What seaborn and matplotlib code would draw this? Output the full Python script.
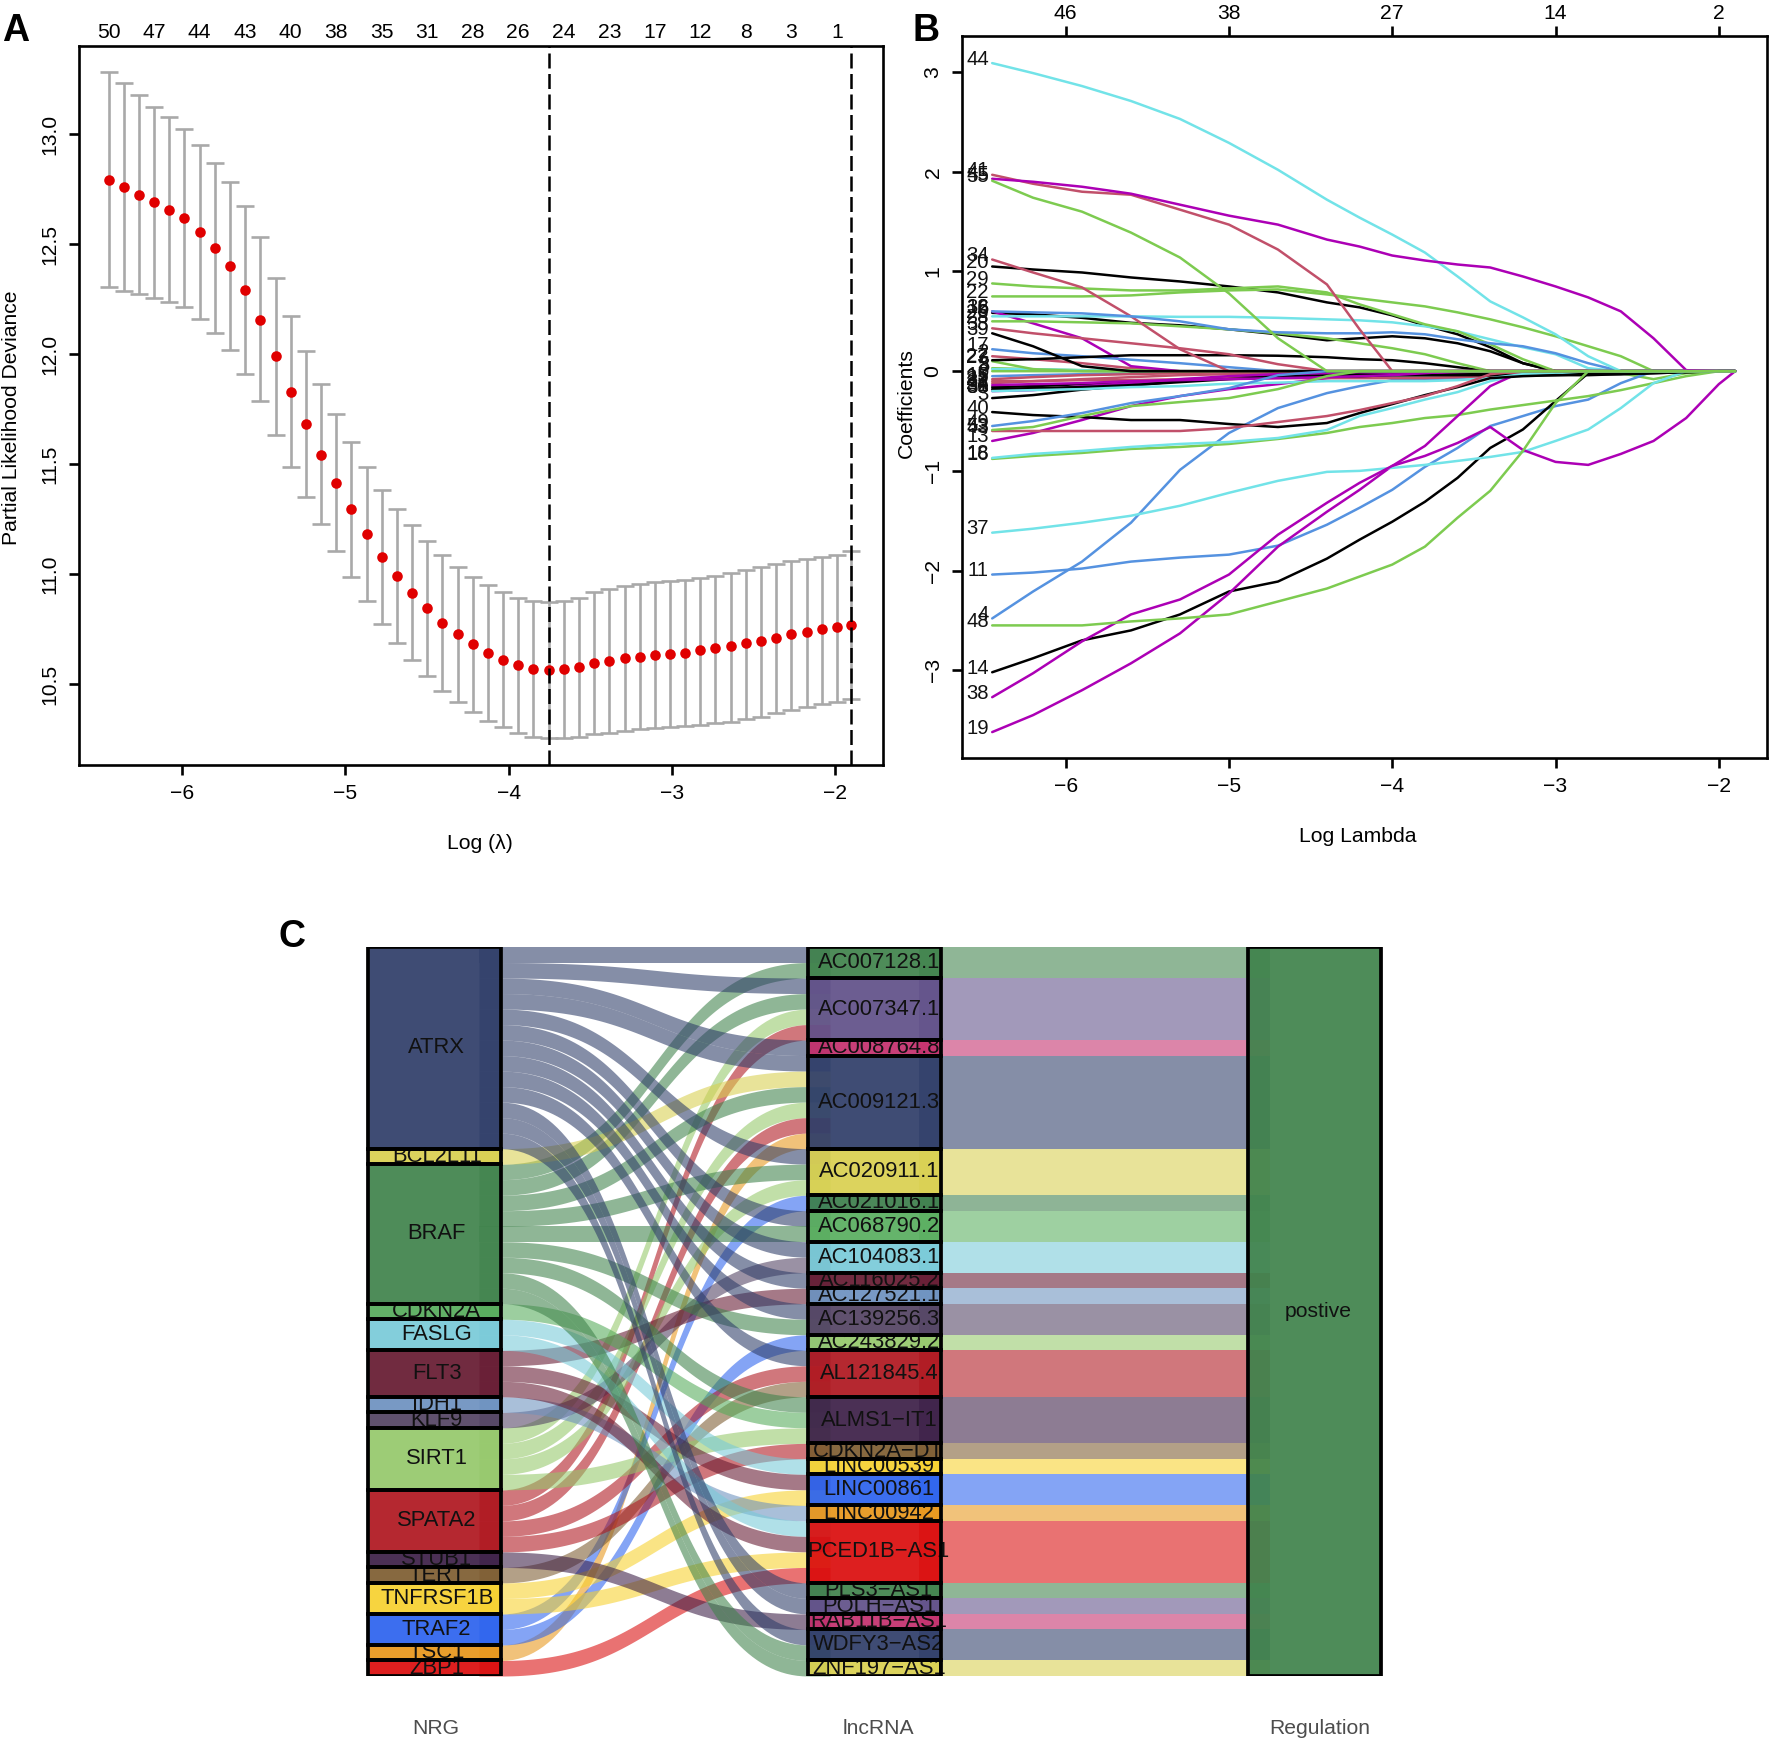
import numpy as np
import seaborn as sns
import matplotlib.pyplot as plt
from matplotlib.patches import Rectangle

W, H = 1772, 1743

# panel A, cross validation curve
log_lambda_a = [-6.449, -6.356, -6.263, -6.170, -6.077, -5.985, -5.892, -5.799, -5.706, -5.613,
                -5.520, -5.427, -5.334, -5.241, -5.148, -5.055, -4.963, -4.870, -4.777, -4.684,
                -4.591, -4.498, -4.405, -4.312, -4.219, -4.126, -4.033, -3.941, -3.848, -3.755,
                -3.662, -3.569, -3.476, -3.383, -3.290, -3.197, -3.104, -3.011, -2.919, -2.826,
                -2.733, -2.640, -2.547, -2.454, -2.361, -2.268, -2.175, -2.082, -1.990, -1.900]
deviance = [12.793, 12.758, 12.725, 12.690, 12.657, 12.617, 12.553, 12.483, 12.400, 12.291,
            12.157, 11.991, 11.829, 11.681, 11.544, 11.416, 11.295, 11.184, 11.080, 10.992,
            10.916, 10.846, 10.780, 10.727, 10.682, 10.644, 10.611, 10.586, 10.571, 10.566,
            10.568, 10.578, 10.596, 10.608, 10.619, 10.626, 10.634, 10.636, 10.644, 10.656,
            10.664, 10.674, 10.687, 10.699, 10.712, 10.727, 10.740, 10.750, 10.760, 10.770]
dev_upper = [13.283, 13.230, 13.177, 13.124, 13.076, 13.023, 12.950, 12.869, 12.781, 12.675,
             12.531, 12.347, 12.173, 12.014, 11.865, 11.729, 11.602, 11.489, 11.385, 11.297,
             11.222, 11.151, 11.090, 11.035, 10.989, 10.952, 10.919, 10.894, 10.881, 10.876,
             10.878, 10.894, 10.919, 10.934, 10.947, 10.957, 10.964, 10.969, 10.974, 10.984,
             10.992, 11.005, 11.020, 11.035, 11.047, 11.060, 11.070, 11.080, 11.090, 11.105]
dev_lower = [12.304, 12.289, 12.273, 12.256, 12.238, 12.213, 12.160, 12.097, 12.019, 11.910,
             11.787, 11.635, 11.486, 11.353, 11.227, 11.105, 10.987, 10.878, 10.775, 10.689,
             10.611, 10.538, 10.472, 10.419, 10.374, 10.336, 10.306, 10.281, 10.263, 10.255,
             10.255, 10.260, 10.273, 10.281, 10.288, 10.296, 10.301, 10.306, 10.311, 10.316,
             10.323, 10.331, 10.341, 10.354, 10.369, 10.384, 10.399, 10.412, 10.422, 10.434]
top_labels_a = ['50', '47', '44', '43', '40', '38', '35', '31', '28', '26', '24', '23', '17', '12', '8', '3', '1']
lambda_min = -3.755
lambda_1se = -1.900

# panel B, coefficient paths read at these log lambda values
log_lambda_b = [-6.45, -6.2, -5.9, -5.6, -5.3, -5.0, -4.7, -4.4, -4.2, -4.0, -3.8,
                -3.6, -3.4, -3.2, -3.0, -2.8, -2.6, -2.4, -2.2, -2.0, -1.9]
c44 = [3.09, 2.99, 2.86, 2.71, 2.53, 2.29, 2.02, 1.72, 1.54, 1.37, 1.19, .95, .70, .54, .37, .15, 0, 0, 0, 0, 0]
c45 = [1.93, 1.90, 1.85, 1.78, 1.67, 1.56, 1.47, 1.32, 1.25, 1.16, 1.11, 1.07, 1.04, .95, .85, .74, .60, .33, .01, 0, 0]
c41 = [1.97, 1.88, 1.80, 1.77, 1.62, 1.47, 1.22, .87, .42, 0, 0, 0, 0, 0, 0, 0, 0, 0, 0, 0, 0]
c55 = [1.91, 1.74, 1.60, 1.39, 1.14, .78, .33, 0, 0, 0, 0, 0, 0, 0, 0, 0, 0, 0, 0, 0, 0]
c34 = [1.12, .99, .84, .55, .22, 0, 0, 0, 0, 0, 0, 0, 0, 0, 0, 0, 0, 0, 0, 0, 0]
c20 = [1.05, 1.02, .99, .94, .90, .85, .79, .69, .64, .56, .46, .37, .24, .08, 0, 0, 0, 0, 0, 0, 0]
c29 = [.88, .85, .83, .81, .81, .83, .85, .79, .67, .57, .47, .40, .27, .12, 0, 0, 0, 0, 0, 0, 0]
c22 = [.75, .75, .75, .76, .79, .81, .82, .77, .73, .69, .65, .59, .52, .44, .35, .25, .15, 0, 0, 0, 0]
c36 = [.60, .59, .58, .55, .50, .42, .39, .38, .38, .39, .37, .32, .28, .25, .18, .08, 0, 0, 0, 0, 0]
c26 = [.55, .55, .55, .55, .545, .545, .535, .52, .51, .49, .45, .40, .32, .24, .17, .03, 0, 0, 0, 0, 0]
c06 = [.585, .57, .535, .485, .46, .42, .37, .31, .33, .35, .33, .28, .20, .08, 0, 0, 0, 0, 0, 0, 0]
c28 = [.50, .50, .49, .48, .45, .42, .38, .33, .28, .23, .17, .08, 0, 0, 0, 0, 0, 0, 0, 0, 0]
c12 = [.60, .48, .33, .05, 0, 0, 0, 0, 0, 0, 0, 0, 0, 0, 0, 0, 0, 0, 0, 0, 0]
c33 = [.43, .38, .33, .28, .23, .17, .07, 0, 0, 0, 0, 0, 0, 0, 0, 0, 0, 0, 0, 0, 0]
c39 = [.38, .25, .05, 0, 0, 0, 0, 0, 0, 0, 0, 0, 0, 0, 0, 0, 0, 0, 0, 0, 0]
c17 = [.22, .18, .15, .115, .08, .04, 0, 0, 0, 0, 0, 0, 0, 0, 0, 0, 0, 0, 0, 0, 0]
c27 = [.11, .12, .14, .16, .16, .16, .155, .14, .12, .11, .08, .04, 0, 0, 0, 0, 0, 0, 0, 0, 0]
c02 = [.15, .12, .08, .03, 0, 0, 0, 0, 0, 0, 0, 0, 0, 0, 0, 0, 0, 0, 0, 0, 0]
c23 = [.10, .02, 0, 0, 0, 0, 0, 0, 0, 0, 0, 0, 0, 0, 0, 0, 0, 0, 0, 0, 0]
c05 = [.03, .02, .01, .01, 0, 0, 0, 0, 0, 0, 0, 0, 0, 0, 0, 0, 0, 0, 0, 0, 0]
c08 = [.02, .02, .01, 0, 0, 0, 0, 0, 0, 0, 0, 0, 0, 0, 0, 0, 0, 0, 0, 0, 0]
c09 = [-.05, -.04, -.03, -.02, -.01, 0, 0, 0, 0, 0, 0, 0, 0, 0, 0, 0, 0, 0, 0, 0, 0]
c10 = [0, 0, 0, 0, 0, 0, 0, 0, 0, 0, 0, 0, 0, 0, 0, 0, -.02, -.08, -.02, 0, 0]
c15 = [-.08, -.06, -.04, -.03, -.02, -.01, 0, 0, 0, 0, 0, 0, 0, 0, 0, 0, 0, 0, 0, 0, 0]
c21 = [-.12, -.10, -.08, -.06, -.04, -.03, -.02, -.01, 0, 0, 0, 0, 0, 0, 0, 0, 0, 0, 0, 0, 0]
c24 = [-.16, -.15, -.13, -.11, -.09, -.07, -.05, -.04, -.04, -.04, -.04, -.04, -.04, -.04, -.04, -.03, -.03, -.02, -.01, 0, 0]
c25 = [-.10, -.10, -.09, -.09, -.08, -.07, -.07, -.07, -.07, -.07, -.07, -.06, -.05, -.01, 0, 0, 0, 0, 0, 0, 0]
c30 = [-.20, -.19, -.15, -.12, -.08, -.05, -.03, -.02, -.01, -.01, 0, 0, 0, 0, 0, 0, 0, 0, 0, 0, 0]
c31 = [-.18, -.17, -.16, -.14, -.11, -.08, -.06, -.05, -.05, -.04, -.04, -.04, -.04, -.04, -.03, -.02, -.01, 0, 0, 0, 0]
c32 = [-.14, -.13, -.12, -.10, -.09, -.08, -.07, -.06, -.05, -.04, -.02, 0, 0, 0, 0, 0, 0, 0, 0, 0, 0]
c35 = [-.20, -.19, -.18, -.16, -.15, -.125, -.115, -.10, -.10, -.10, -.10, -.09, -.07, -.03, -.02, 0, 0, 0, 0, 0, 0]
c03 = [-.27, -.24, -.185, -.145, -.10, -.07, -.035, -.02, -.02, -.02, -.02, -.02, -.02, -.01, 0, 0, 0, 0, 0, 0, 0]
c40 = [-.41, -.44, -.46, -.49, -.49, -.53, -.56, -.52, -.42, -.33, -.24, -.16, -.07, -.05, -.04, -.04, -.03, -.02, -.01, 0, 0]
c43 = [-.60, -.60, -.60, -.60, -.60, -.57, -.51, -.45, -.39, -.32, -.25, -.15, -.03, 0, 0, 0, 0, 0, 0, 0, 0]
c49 = [-.55, -.50, -.42, -.32, -.25, -.17, -.04, 0, 0, 0, 0, 0, 0, 0, 0, 0, 0, 0, 0, 0, 0]
c53 = [-.59, -.56, -.45, -.35, -.31, -.27, -.18, -.05, 0, 0, 0, 0, 0, 0, 0, 0, 0, 0, 0, 0, 0]
c13 = [-.70, -.62, -.49, -.35, -.25, -.18, -.13, -.07, -.04, -.03, -.02, -.01, 0, 0, 0, 0, 0, 0, 0, 0, 0]
c18 = [-.87, -.83, -.80, -.76, -.73, -.71, -.67, -.59, -.45, -.37, -.285, -.21, -.10, -.03, 0, 0, 0, 0, 0, 0, 0]
c16 = [-.88, -.85, -.82, -.78, -.76, -.73, -.68, -.62, -.56, -.52, -.47, -.44, -.385, -.34, -.295, -.25, -.19, -.12, -.05, 0, 0]
c37 = [-1.62, -1.58, -1.52, -1.45, -1.35, -1.22, -1.10, -1.01, -1.00, -.97, -.94, -.90, -.86, -.81, -.70, -.585, -.37, -.12, 0, 0, 0]
c11 = [-2.04, -2.02, -1.98, -1.91, -1.87, -1.84, -1.75, -1.54, -1.37, -1.19, -.96, -.77, -.55, -.45, -.35, -.285, -.12, 0, 0, 0, 0]
c04 = [-2.48, -2.21, -1.91, -1.52, -.99, -.62, -.37, -.22, -.15, -.09, -.08, -.07, -.05, -.04, -.03, -.02, -.01, 0, 0, 0, 0]
c48 = [-2.55, -2.55, -2.55, -2.51, -2.48, -2.44, -2.31, -2.18, -2.06, -1.94, -1.76, -1.47, -1.20, -.80, -.32, 0, 0, 0, 0, 0, 0]
c14 = [-3.02, -2.88, -2.70, -2.60, -2.44, -2.21, -2.11, -1.88, -1.69, -1.51, -1.31, -1.07, -.77, -.585, -.30, -.02, -.02, -.01, 0, 0, 0]
c38 = [-3.27, -3.03, -2.71, -2.44, -2.29, -2.04, -1.64, -1.32, -1.12, -.95, -.85, -.72, -.56, -.79, -.91, -.94, -.83, -.70, -.47, -.13, 0]
c19 = [-3.62, -3.45, -3.20, -2.93, -2.63, -2.23, -1.76, -1.41, -1.19, -.95, -.75, -.45, -.15, 0, 0, 0, 0, 0, 0, 0, 0]
top_ticks_b = ['46', '38', '27', '14', '2']

k_black, k_red, k_green, k_blue, k_cyan, k_mag = '#000000', '#C1506A', '#7DCB50', '#5592E0', '#72E3E8', '#AC00B5'
paths_b = [('3', c03, k_black), ('4', c04, k_blue), ('2', c02, k_red), ('5', c05, k_green), ('6', c06, k_black),
           ('8', c08, k_cyan), ('9', c09, k_blue), ('10', c10, k_green), ('11', c11, k_blue), ('12', c12, k_mag),
           ('13', c13, k_mag), ('14', c14, k_black), ('15', c15, k_red), ('16', c16, k_green), ('17', c17, k_blue),
           ('18', c18, k_cyan), ('19', c19, k_mag), ('20', c20, k_black), ('21', c21, k_red), ('22', c22, k_green),
           ('23', c23, k_green), ('24', c24, k_black), ('25', c25, k_red), ('26', c26, k_cyan), ('27', c27, k_black),
           ('28', c28, k_green), ('29', c29, k_green), ('30', c30, k_mag), ('31', c31, k_black), ('32', c32, k_mag),
           ('33', c33, k_red), ('34', c34, k_red), ('35', c35, k_cyan), ('36', c36, k_blue), ('37', c37, k_cyan),
           ('38', c38, k_mag), ('39', c39, k_black), ('40', c40, k_black), ('41', c41, k_red), ('43', c43, k_red),
           ('44', c44, k_cyan), ('45', c45, k_mag), ('48', c48, k_green), ('49', c49, k_blue), ('53', c53, k_green),
           ('55', c55, k_green)]

# panel C, alluvial
nrg_names = ['ATRX', 'BCL2L11', 'BRAF', 'CDKN2A', 'FASLG', 'FLT3', 'IDH1', 'KLF9', 'SIRT1', 'SPATA2',
             'STUB1', 'TERT', 'TNFRSF1B', 'TRAF2', 'TSC1', 'ZBP1']
nrg_colors = ['#2E3D68', '#D9D04F', '#3F824B', '#55AB5A', '#78CAD8', '#651930', '#6C91BF', '#524262',
              '#95C86A', '#AF151E', '#3B1E46', '#7D5C30', '#F7D12E', '#2B62EE', '#E8961A', '#DA0C0C']
lnc_names = ['AC007128.1', 'AC007347.1', 'AC008764.8', 'AC009121.3', 'AC020911.1', 'AC021016.1', 'AC068790.2',
             'AC104083.1', 'AC116025.2', 'AC127521.1', 'AC139256.3', 'AC243829.2', 'AL121845.4', 'ALMS1\u2212IT1',
             'CDKN2A\u2212DT', 'LINC00539', 'LINC00861', 'LINC00942', 'PCED1B\u2212AS1', 'PLS3\u2212AS1',
             'POLH\u2212AS1', 'RAB11B\u2212AS1', 'WDFY3\u2212AS2', 'ZNF197\u2212AS1']
lnc_colors = ['#3F824B', '#604F88', '#C42E6C', '#2E3D68', '#D9D04F', '#3C7E4B', '#58AE5E', '#78CAD8',
              '#651930', '#6C91BF', '#524262', '#95C86A', '#AF151E', '#3B1E46', '#7D5C30', '#F7D12E',
              '#2B62EE', '#E8961A', '#DA0C0C', '#3F824B', '#604F88', '#C42E6C', '#2E3D68', '#D9D04F']
lnc_sources = [['ATRX', 'BRAF'],
               ['ATRX', 'BRAF', 'SIRT1', 'SPATA2'],
               ['ATRX'],
               ['ATRX', 'BCL2L11', 'BRAF', 'SIRT1', 'SPATA2', 'TSC1'],
               ['ATRX', 'BRAF', 'SIRT1'],
               ['TRAF2'],
               ['ATRX', 'BRAF'],
               ['ATRX', 'KLF9'],
               ['ATRX'],
               ['FLT3'],
               ['ATRX', 'BRAF'],
               ['TRAF2'],
               ['ATRX', 'SPATA2', 'TERT'],
               ['BRAF', 'CDKN2A', 'SIRT1'],
               ['SPATA2'],
               ['FASLG'],
               ['FLT3', 'TNFRSF1B'],
               ['IDH1'],
               ['FASLG', 'FLT3', 'TNFRSF1B', 'ZBP1'],
               ['ATRX'],
               ['ATRX'],
               ['STUB1'],
               ['ATRX', 'BRAF'],
               ['BRAF']]

sns.set_theme(style='ticks', font='Liberation Sans')
plt.rcParams['axes.linewidth'] = 1.9
plt.rcParams['axes.edgecolor'] = 'black'
plt.rcParams['text.color'] = 'black'
plt.rcParams['xtick.color'] = 'black'
plt.rcParams['ytick.color'] = 'black'
plt.rcParams['xtick.major.width'] = 1.9
plt.rcParams['ytick.major.width'] = 1.9
plt.rcParams['xtick.major.size'] = 7
plt.rcParams['ytick.major.size'] = 7
font_size = 15.2

fig = plt.figure(figsize=(W / 100, H / 100), dpi=100)


def px_axes(left, top, right, bottom):
    return fig.add_axes([left / W, 1 - bottom / H, (right - left) / W, (bottom - top) / H])


# --- A ---
ax_a = px_axes(79, 46, 883, 765)
y_arr = np.array(deviance)
ax_a.errorbar(log_lambda_a, deviance, yerr=[y_arr - np.array(dev_lower), np.array(dev_upper) - y_arr],
              fmt='none', ecolor='#A9A9A9', elinewidth=1.9, capsize=6.2, capthick=1.9, zorder=2)
sns.scatterplot(x=log_lambda_a, y=deviance, color='#E00000', s=58, linewidth=0, ax=ax_a, zorder=3)
for v in [lambda_min, lambda_1se]:
    ax_a.axvline(v, color='black', lw=1.8, linestyle=(0, (6, 2.2)), zorder=4)
ax_a.set_xlim(-6.631, -1.707)
ax_a.set_ylim(10.134, 13.40)
ax_a.set_xticks([-6, -5, -4, -3, -2])
ax_a.set_yticks([10.5, 11, 11.5, 12, 12.5, 13])
ax_a.set_yticklabels(['10.5', '11.0', '11.5', '12.0', '12.5', '13.0'], rotation=90, va='center')
ax_a.tick_params(labelsize=font_size, pad=7)
top_a = ax_a.secondary_xaxis('top')
top_a.set_xticks(log_lambda_a[::3][:len(top_labels_a)])
top_a.set_xticklabels(top_labels_a)
top_a.tick_params(length=0, labelsize=font_size, pad=3)
top_a.spines['top'].set_visible(False)

# --- B ---
ax_b = px_axes(962, 36, 1767, 758)
for name, vals, col in paths_b:
    sns.lineplot(x=log_lambda_b, y=vals, color=col, lw=1.8, estimator=None, sort=False, ax=ax_b, zorder=2)
    if name != '10':
        ax_b.text(-6.47, vals[0] + 0.04, name, ha='right', va='center', fontsize=font_size - 0.6, color='#111111', zorder=5)
ax_b.set_xlim(-6.635, -1.705)
ax_b.set_ylim(-3.880, 3.362)
ax_b.set_xticks([-6, -5, -4, -3, -2])
ax_b.set_yticks([-3, -2, -1, 0, 1, 2, 3])
ax_b.set_yticklabels(['\u22123', '\u22122', '\u22121', '0', '1', '2', '3'], rotation=90, va='center')
ax_b.tick_params(labelsize=font_size, pad=7)
top_b = ax_b.secondary_xaxis('top')
top_b.set_xticks([-6, -5, -4, -3, -2])
top_b.set_xticklabels(top_ticks_b)
top_b.tick_params(labelsize=font_size, pad=2)
top_b.spines['top'].set_visible(False)

fig.text(12 / W, 1 - 418 / H, 'Partial Likelihood Deviance', rotation=90, ha='center', va='center', fontsize=font_size)
fig.text(480 / W, 1 - 844 / H, 'Log (\u03bb)', ha='center', va='center', fontsize=font_size)
fig.text(906 / W, 1 - 403 / H, 'Coefficients', rotation=90, ha='center', va='center', fontsize=font_size)
fig.text(1358 / W, 1 - 836 / H, 'Log Lambda', ha='center', va='center', fontsize=font_size)
for letter, lx, ly in [('A', 16, 31), ('B', 926, 31), ('C', 292, 937)]:
    fig.text(lx / W, 1 - ly / H, letter, ha='center', va='center', fontsize=27, fontweight='bold')

# --- C ---
ax_c = px_axes(330, 947, 1420, 1676)
total = sum(len(s) for s in lnc_sources)
half = 0.151
under = 0.05
flow_alpha = 0.58
box_alpha = 0.92
edge_lw = 2.7
ax_c.set_xlim(0.7625, 3.24)
ax_c.set_ylim(total, 0)


def ribbon(x0, x1, y0, y1, color):
    # cubic curve, flat at both ends, constant vertical thickness of one unit
    s = np.linspace(0, 1, 80)
    xm = (x0 + x1) / 2
    xs = (1 - s) ** 3 * x0 + 3 * (1 - s) ** 2 * s * xm + 3 * (1 - s) * s ** 2 * xm + s ** 3 * x1
    ys = y0 + (y1 - y0) * (3 * s ** 2 - 2 * s ** 3)
    xs = np.r_[x0 - under, xs, x1 + under]
    ys = np.r_[y0, ys, y1]
    ax_c.fill_between(xs, ys, ys + 1, color=color, alpha=flow_alpha, linewidth=0, zorder=2)


nrg_count = {n: sum(s.count(n) for s in lnc_sources) for n in nrg_names}
nrg_start = {}
pos = 0
for n, col in zip(nrg_names, nrg_colors):
    nrg_start[n] = pos
    ax_c.bar(1, nrg_count[n], bottom=pos, width=2 * half, color=col, alpha=box_alpha, zorder=3)
    ax_c.text(1.005, pos + nrg_count[n] / 2, n, ha='center', va='center', fontsize=15.8, color='#111111', zorder=4)
    ax_c.add_patch(Rectangle((1 - half, pos), 2 * half, nrg_count[n], fill=False, ec='black', lw=edge_lw, zorder=5))
    pos += nrg_count[n]

used = {n: 0 for n in nrg_names}
pos = 0
for name, col, sources in zip(lnc_names, lnc_colors, lnc_sources):
    count = len(sources)
    ax_c.bar(2, count, bottom=pos, width=2 * half, color=col, alpha=box_alpha, zorder=3)
    ax_c.text(2.01, pos + count / 2, name, ha='center', va='center', fontsize=15.8, color='#111111', zorder=4)
    ax_c.add_patch(Rectangle((2 - half, pos), 2 * half, count, fill=False, ec='black', lw=edge_lw, zorder=5))
    for i, src in enumerate(sources):
        ribbon(1 + half, 2 - half, nrg_start[src] + used[src], pos + i, nrg_colors[nrg_names.index(src)])
        used[src] += 1
    ax_c.add_patch(Rectangle((2 + half - under, pos), 1 - 2 * half + 2 * under, count, color=col,
                             alpha=flow_alpha, linewidth=0, zorder=2))
    pos += count

ax_c.bar(3, total, bottom=0, width=2 * half, color='#3F824B', alpha=box_alpha, zorder=3)
ax_c.text(3.008, total / 2, 'postive', ha='center', va='center', fontsize=font_size, color='#111111', zorder=4)
ax_c.add_patch(Rectangle((3 - half, 0), 2 * half, total, fill=False, ec='black', lw=edge_lw, zorder=5))

sns.despine(ax=ax_c, left=True, bottom=True)
ax_c.set_yticks([])
ax_c.set_xticks([1.003, 2.01, 3.012])
ax_c.set_xticklabels(['NRG', 'lncRNA', 'Regulation'], color='#4D4D4D', fontsize=font_size)
ax_c.tick_params(axis='x', length=0, pad=31)

fig.savefig('out.png', dpi=100)
